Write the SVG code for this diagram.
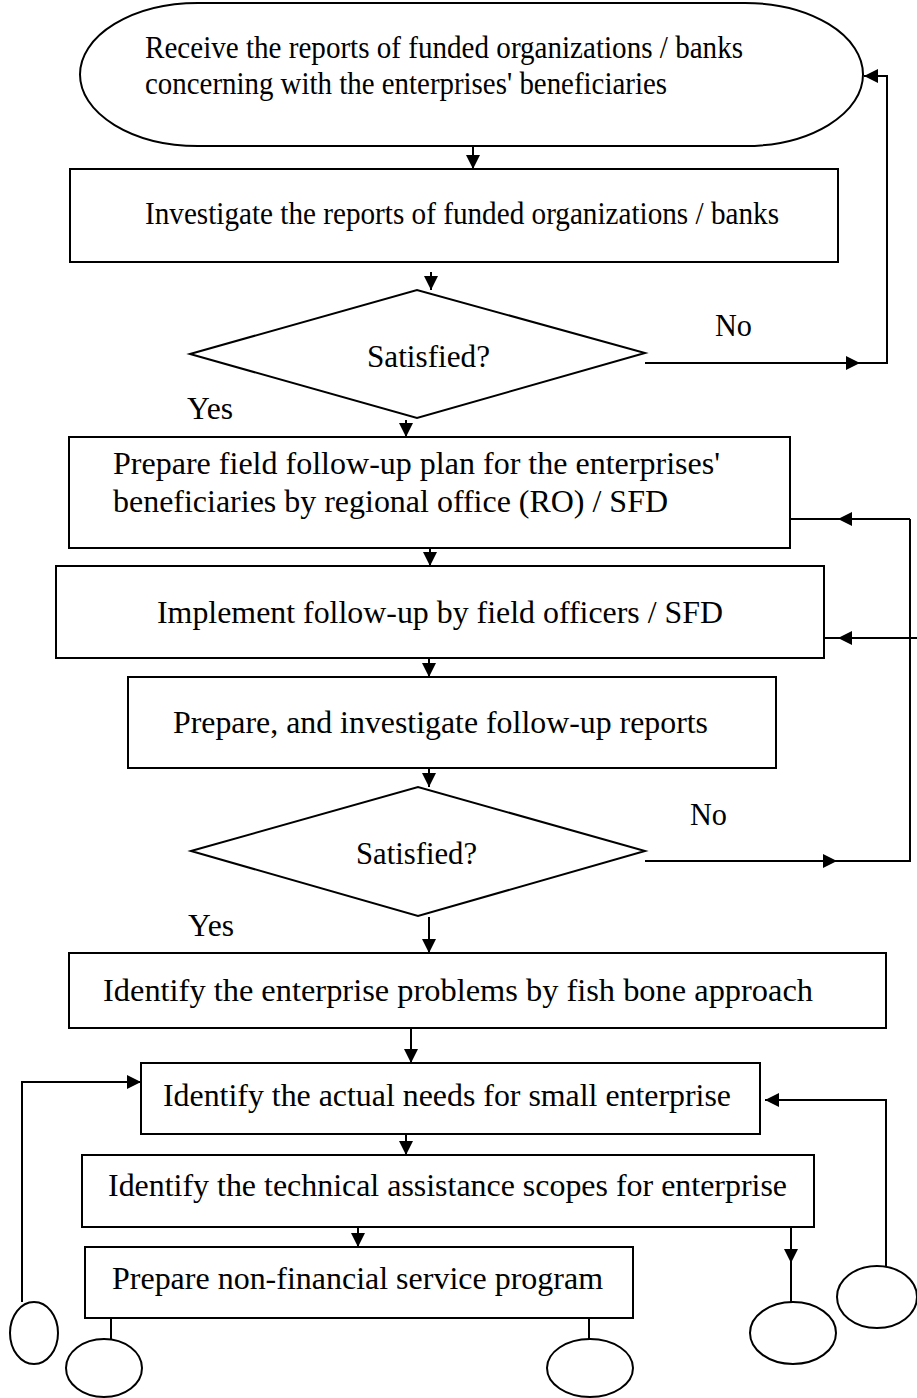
<svg xmlns="http://www.w3.org/2000/svg" width="917" height="1398" viewBox="0 0 917 1398">
  <style>
    .shape { fill: #ffffff; stroke: #000000; stroke-width: 2; }
    .wire { fill: none; stroke: #000000; stroke-width: 2; }
    .arrow { fill: none; stroke: #000000; stroke-width: 2; marker-end: url(#head); }
    .label { font-family: "Liberation Serif", "Times New Roman", serif; font-size: 32px; fill: #000000; }
  </style>
  <defs>
    <marker id="head" markerUnits="userSpaceOnUse" markerWidth="15" markerHeight="14" refX="14" refY="7" orient="auto">
      <path d="M0,0 L14,7 L0,14 z" fill="#000000"/>
    </marker>
  </defs>

  <rect width="917" height="1398" fill="#ffffff"/>

  <!-- flow connectors -->
  <g id="connectors">
    <path class="arrow" d="M473,146 V169"/>
    <path class="arrow" d="M431,272 V290"/>
    <!-- first "No" loop back to the start -->
    <path class="arrow" d="M645,363 H860"/>
    <path class="arrow" d="M860,363 H887 V76 H864"/>
    <path class="arrow" d="M406,420 V437"/>
    <path class="arrow" d="M430,548 V566"/>
    <path class="arrow" d="M429,658 V677"/>
    <path class="arrow" d="M429,768 V787"/>
    <!-- second "No" loop back to planning / implementation -->
    <path class="arrow" d="M645,861 H837"/>
    <path class="wire" d="M789,861 H823" stroke-width="3" stroke="#555555"/>
    <path class="wire" d="M837,861 H910 V519"/>
    <path class="arrow" d="M910,519 H838"/>
    <path class="wire" d="M838,519 H790"/>
    <path class="arrow" d="M917,638 H838"/>
    <path class="wire" d="M838,638 H824"/>
    <path class="arrow" d="M429,917 V953"/>
    <path class="arrow" d="M411,1028 V1063"/>
    <path class="arrow" d="M406,1134 V1155"/>
    <path class="arrow" d="M358,1227 V1247"/>
    <!-- branches to the off-page connectors -->
    <path class="arrow" d="M791,1217 V1263"/>
    <path class="wire" d="M791,1263 V1302"/>
    <path class="arrow" d="M22,1302 V1082 H141"/>
    <path class="arrow" d="M886,1266 V1100 H765"/>
    <path class="wire" d="M111,1318 V1339"/>
    <path class="wire" d="M589,1318 V1340"/>
  </g>

  <g id="receive-reports">
    <rect class="shape" x="80" y="3" width="783" height="143" rx="118" ry="71.5"/>
    <text class="label" x="145" y="58" textLength="598" lengthAdjust="spacingAndGlyphs">Receive the reports of funded organizations / banks</text>
    <text class="label" x="145" y="94" textLength="522" lengthAdjust="spacingAndGlyphs">concerning with the enterprises' beneficiaries</text>
  </g>

  <g id="investigate-reports">
    <rect class="shape" x="70" y="169" width="768" height="93"/>
    <text class="label" x="145" y="224" textLength="634" lengthAdjust="spacingAndGlyphs">Investigate the reports of funded organizations / banks</text>
  </g>

  <g id="decision-1">
    <polygon class="shape" points="190,354 417,290 645,353 417,418"/>
    <text class="label" x="367" y="367" textLength="123" lengthAdjust="spacingAndGlyphs">Satisfied?</text>
    <text class="label" x="715" y="336" textLength="37" lengthAdjust="spacingAndGlyphs">No</text>
    <text class="label" x="187" y="419" textLength="46" lengthAdjust="spacingAndGlyphs">Yes</text>
  </g>

  <g id="follow-up-plan">
    <rect class="shape" x="69" y="437" width="721" height="111"/>
    <text class="label" x="113" y="474" textLength="607" lengthAdjust="spacingAndGlyphs">Prepare field follow-up plan for the enterprises'</text>
    <text class="label" x="113" y="512" textLength="555" lengthAdjust="spacingAndGlyphs">beneficiaries by regional office (RO) / SFD</text>
  </g>

  <g id="implement-follow-up">
    <rect class="shape" x="56" y="566" width="768" height="92"/>
    <text class="label" x="157" y="623" textLength="566" lengthAdjust="spacingAndGlyphs">Implement follow-up by field officers / SFD</text>
  </g>

  <g id="follow-up-reports">
    <rect class="shape" x="128" y="677" width="648" height="91"/>
    <text class="label" x="173" y="733" textLength="535" lengthAdjust="spacingAndGlyphs">Prepare, and investigate follow-up reports</text>
  </g>

  <g id="decision-2">
    <polygon class="shape" points="191,851 418,787 645,851 418,916"/>
    <text class="label" x="356" y="864" textLength="121" lengthAdjust="spacingAndGlyphs">Satisfied?</text>
    <text class="label" x="690" y="825" textLength="37" lengthAdjust="spacingAndGlyphs">No</text>
    <text class="label" x="188" y="936" textLength="46" lengthAdjust="spacingAndGlyphs">Yes</text>
  </g>

  <g id="problems-fish-bone">
    <rect class="shape" x="69" y="953" width="817" height="75"/>
    <text class="label" x="103" y="1001" textLength="710" lengthAdjust="spacingAndGlyphs">Identify the enterprise problems by fish bone approach</text>
  </g>

  <g id="actual-needs">
    <rect class="shape" x="141" y="1063" width="619" height="71"/>
    <text class="label" x="163" y="1106" textLength="568" lengthAdjust="spacingAndGlyphs">Identify the actual needs for small enterprise</text>
  </g>

  <g id="assistance-scopes">
    <rect class="shape" x="82" y="1155" width="732" height="72"/>
    <text class="label" x="108" y="1196" textLength="679" lengthAdjust="spacingAndGlyphs">Identify the technical assistance scopes for enterprise</text>
  </g>

  <g id="service-program">
    <rect class="shape" x="85" y="1247" width="548" height="71"/>
    <text class="label" x="112" y="1289" textLength="491" lengthAdjust="spacingAndGlyphs">Prepare non-financial service program</text>
  </g>

  <!-- off-page connectors -->
  <g id="connector-left-tall">
    <ellipse class="shape" cx="34" cy="1333" rx="24" ry="31"/>
  </g>
  <g id="connector-left-low">
    <ellipse class="shape" cx="104" cy="1368" rx="38" ry="29"/>
  </g>
  <g id="connector-mid-low">
    <ellipse class="shape" cx="590" cy="1368" rx="43" ry="29"/>
  </g>
  <g id="connector-right">
    <ellipse class="shape" cx="793" cy="1333" rx="43" ry="31"/>
  </g>
  <g id="connector-far-right">
    <ellipse class="shape" cx="877" cy="1297" rx="40" ry="31"/>
  </g>
</svg>
